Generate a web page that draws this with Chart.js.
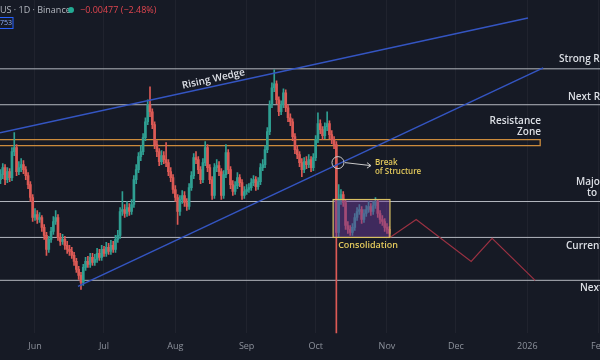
<!DOCTYPE html>
<html>
<head>
<meta charset="utf-8">
<script src="https://cdn.jsdelivr.net/npm/chart.js@4.4.1/dist/chart.umd.min.js"></script>
<style>
  html, body { margin: 0; background: #161a25; }
  canvas { display: block; }
</style>
</head>
<body>
<canvas id="chart" width="600" height="360"></canvas>
<script>
// daily candles, first one is 17 May 2025 (day -15, day 0 = 1 Jun)
// prices in 1/1000 USDT
const startDay = -15;
const opens = [
  258,263,270,258,266,260,286,290,266,270,273,268,262,253,240,
  220,223,218,220,210,202,188,198,206,216,
  220,200,196,198,192,188,186,182,176,168,
  162,155,170,176,173,180,175,178,184,180,
  188,184,190,186,192,188,198,202,226,228,
  224,230,226,233,258,268,281,286,300,316,
  333,326,313,293,286,276,282,278,275,266,
  260,248,240,226,238,242,235,231,250,262,
  280,278,268,258,275,290,270,258,242,270,
  272,266,242,263,285,268,253,246,252,260,
  255,242,246,248,250,255,258,251,256,270,
  273,288,306,333,350,354,338,326,333,345,
  330,320,316,301,288,283,275,268,276,273,
  278,270,280,298,314,308,302,311,314,303,
  298,293,205,238,243,235,212,208,205,210,
  220,226,228,218,224,228,231,226,232,236,
  224,218,216,210,208
];
const highs = [
  268,274,273,270,269,290,305,293,276,279,277,271,265,256,243,
  229,227,225,222,213,205,201,210,221,227,
  223,204,203,201,196,192,190,185,179,171,
  165,173,180,181,184,184,183,189,188,192,
  191,195,194,197,196,202,207,230,246,233,
  236,234,238,262,273,285,292,304,320,338,
  351,329,316,297,289,287,286,295,278,270,
  263,252,243,242,247,246,239,254,266,284,
  286,281,271,279,296,293,273,261,274,278,
  276,269,267,293,288,271,257,256,265,263,
  258,251,253,254,259,262,261,260,274,278,
  292,310,337,355,368,357,341,337,349,348,
  333,324,319,304,292,286,279,280,281,283,
  281,284,302,325,318,311,315,326,317,307,
  301,296,253,248,246,238,216,212,214,224,
  230,233,231,228,232,236,234,236,240,238,
  227,222,219,214,211
];
const lows = [
  254,259,253,255,256,257,282,262,263,266,264,258,249,236,216,
  217,214,215,206,198,182,185,195,203,213,
  197,192,193,188,184,182,179,172,165,158,
  148,152,167,170,170,172,172,175,177,177,
  181,181,183,183,185,185,195,199,222,220,
  221,222,223,230,254,265,277,283,297,313,
  321,309,289,281,272,273,274,271,262,256,
  244,236,213,222,234,231,227,228,247,259,
  274,264,254,255,272,266,254,238,239,266,
  262,238,239,260,264,249,242,243,249,251,
  238,239,243,245,247,252,247,248,253,267,
  270,285,303,330,346,334,322,323,330,326,
  316,312,297,284,279,271,261,265,269,270,
  266,267,277,295,304,298,299,307,299,294,
  289,98,200,233,231,208,204,202,202,207,
  217,223,214,215,221,225,222,223,229,220,
  214,212,206,204,200
];
const closes = [
  263,270,258,266,260,286,290,266,270,273,268,262,253,240,220,
  223,218,220,210,202,188,198,206,216,220,
  200,196,198,192,188,186,182,176,168,162,
  155,170,176,173,180,175,178,184,180,188,
  184,190,186,192,188,198,202,226,228,224,
  230,226,233,258,268,281,286,300,316,333,
  326,313,293,286,276,282,278,275,266,260,
  248,240,226,238,242,235,231,250,262,280,
  278,268,258,275,290,270,258,242,270,272,
  266,242,263,285,268,253,246,252,260,255,
  242,246,248,250,255,258,251,256,270,273,
  288,306,333,350,354,338,326,333,345,330,
  320,316,301,288,283,275,268,276,273,278,
  270,280,298,314,308,302,311,314,303,298,
  293,205,238,243,235,212,208,205,210,220,
  226,228,218,224,228,231,226,232,236,224,
  218,216,210,208,204
];

const monthTicks = [0, 30, 61, 92, 122, 153, 183, 214, 245];
const monthLabels = ['Jun', 'Jul', 'Aug', 'Sep', 'Oct', 'Nov', 'Dec', '2026', 'Feb'];

// horizontal levels: strong res, next res, major, current, next support
const levelPrices = [369, 333, 236, 200, 157];
const zoneTop = 298, zoneBottom = 292, zoneEnd = 219.6;
const wedgeUpper = [[-15.2, 305], [214.3, 420]];
const wedgeLower = [[18.7, 151], [220.9, 370]];
const projection = [[154.3, 200], [165.7, 218], [189.6, 176], [198.7, 199], [217.4, 157]];
const consolidation = { from: 129.6, to: 154.3, low: 200, high: 238 };
const breakPoint = [131.7, 275];

const xs = closes.map((_, i) => startDay + i);
const colors = closes.map((c, i) => c >= opens[i] ? '#2f9f92' : '#dc5a55');

const lineSet = (pts, color, width, order) => ({
  type: 'line',
  data: pts.map(p => ({ x: p[0], y: p[1] })),
  borderColor: color,
  borderWidth: width,
  pointRadius: 0,
  tension: 0,
  order
});

const datasets = [];
levelPrices.forEach(p => datasets.push(lineSet([[-16, p], [247, p]], '#b3b7bf', 1, 6)));
datasets.push(lineSet([[-16, zoneTop], [zoneEnd, zoneTop], [zoneEnd, zoneBottom], [-16, zoneBottom]], '#cc8b3c', 1.3, 6));
datasets.push({
  type: 'bar',
  data: xs.map((x, i) => ({ x, y: [lows[i], highs[i]] })),
  backgroundColor: colors,
  barThickness: 1,
  grouped: false,
  order: 3
});
datasets.push({
  type: 'bar',
  data: xs.map((x, i) => ({ x, y: [opens[i], closes[i]] })),
  backgroundColor: colors,
  barThickness: 2,
  minBarLength: 1,
  grouped: false,
  order: 2
});
datasets.push(lineSet(wedgeUpper, '#3455c2', 1.5, 1));
datasets.push(lineSet(wedgeLower, '#3455c2', 1.5, 1));
datasets.push(lineSet(projection, '#9a3142', 1.2, 1));

const FONT = '"Open Sans", "Noto Sans", sans-serif';

const notes = {
  id: 'notes',
  afterDatasetsDraw(chart) {
    const { ctx, scales: { x, y } } = chart;
    ctx.save();

    // consolidation box
    const bx = x.getPixelForValue(consolidation.from), bx2 = x.getPixelForValue(consolidation.to);
    const by = y.getPixelForValue(consolidation.high), by2 = y.getPixelForValue(consolidation.low);
    ctx.fillStyle = 'rgba(104,58,150,0.5)';
    ctx.fillRect(bx, by, bx2 - bx, by2 - by);
    ctx.strokeStyle = '#d9c162';
    ctx.lineWidth = 1.2;
    ctx.strokeRect(bx, by, bx2 - bx, by2 - by);
    ctx.fillStyle = '#e3c95c';
    ctx.font = '600 9px ' + FONT;
    ctx.textBaseline = 'middle';
    ctx.fillText('Consolidation', bx + 5, by2 + 8);

    // break of structure
    const cx = x.getPixelForValue(breakPoint[0]), cy = y.getPixelForValue(breakPoint[1]);
    ctx.strokeStyle = '#c9c9c9';
    ctx.lineWidth = 1;
    ctx.beginPath();
    ctx.arc(cx, cy, 6, 0, Math.PI * 2);
    ctx.stroke();
    ctx.beginPath();
    ctx.moveTo(cx + 7, cy);
    ctx.lineTo(cx + 33, cy + 3);
    ctx.stroke();
    ctx.beginPath();
    ctx.moveTo(cx + 29, cy);
    ctx.lineTo(cx + 33, cy + 3);
    ctx.lineTo(cx + 29, cy + 5.5);
    ctx.stroke();
    ctx.fillStyle = '#e3c95c';
    ctx.font = '600 8px ' + FONT;
    ctx.fillText('Break', cx + 37, cy);
    ctx.fillText('of Structure', cx + 37, cy + 9);

    // rising wedge label along the upper line
    const ux1 = x.getPixelForValue(wedgeUpper[0][0]), uy1 = y.getPixelForValue(wedgeUpper[0][1]);
    const ux2 = x.getPixelForValue(wedgeUpper[1][0]), uy2 = y.getPixelForValue(wedgeUpper[1][1]);
    const ang = Math.atan2(uy2 - uy1, ux2 - ux1);
    const tx = 215, ty = uy1 + (tx - ux1) * Math.tan(ang);
    ctx.save();
    ctx.translate(tx, ty);
    ctx.rotate(ang);
    ctx.fillStyle = '#dfe2e8';
    ctx.font = '600 10px ' + FONT;
    ctx.textAlign = 'center';
    ctx.fillText('Rising Wedge', 0, -7);
    ctx.restore();

    // level labels on the right
    ctx.fillStyle = '#dcdfe5';
    ctx.font = '600 10px ' + FONT;
    const lp = levelPrices.map(p => y.getPixelForValue(p));
    ctx.fillText('Strong Resistance', 559, lp[0] - 10);
    ctx.fillText('Next Resistance', 568, lp[1] - 8);
    ctx.fillText('Major Support', 576, lp[2] - 19);
    ctx.fillText('to Reclaim', 587, lp[2] - 8);
    ctx.fillText('Current Price', 566, lp[3] + 9);
    ctx.fillText('Next Support', 580, lp[4] + 8);
    ctx.textAlign = 'right';
    const zt = y.getPixelForValue(zoneTop);
    ctx.fillText('Resistance', 541, zt - 19);
    ctx.fillText('Zone', 541, zt - 8);
    ctx.textAlign = 'left';

    // header
    ctx.font = '9px ' + FONT;
    ctx.fillStyle = '#b4b8c0';
    ctx.fillText('US \u00b7 1D \u00b7 Binance', 0, 10);
    ctx.fillStyle = '#22ab94';
    ctx.beginPath();
    ctx.arc(71, 10, 3, 0, Math.PI * 2);
    ctx.fill();
    ctx.fillStyle = '#e0454f';
    ctx.fillText('\u22120.00477 (\u22122.48%)', 80, 10);
    ctx.strokeStyle = '#2962ff';
    ctx.lineWidth = 1;
    ctx.strokeRect(-3, 17.5, 16, 11);
    ctx.fillStyle = '#8fb0ff';
    ctx.font = '7px ' + FONT;
    ctx.fillText('753', 0, 23);
    ctx.restore();
  }
};

new Chart(document.getElementById('chart'), {
  type: 'bar',
  data: { datasets },
  plugins: [notes],
  options: {
    responsive: false,
    animation: false,
    devicePixelRatio: 1,
    layout: { padding: { left: 0, right: 0, top: 0, bottom: 0 } },
    plugins: { legend: { display: false }, tooltip: { enabled: false } },
    scales: {
      x: {
        type: 'linear',
        min: -15.2,
        max: 245.6,
        offset: false,
        grid: { color: 'rgba(255,255,255,0.045)', drawTicks: false, offset: false },
        border: { display: false },
        ticks: {
          color: '#8d929c',
          font: { size: 9, family: FONT },
          padding: 8,
          autoSkip: false,
          maxRotation: 0,
          callback: (v, i) => monthLabels[i]
        },
        afterBuildTicks: s => { s.ticks = monthTicks.map(v => ({ value: v })); },
        afterFit: s => { s.paddingLeft = 0; s.paddingRight = 0; }
      },
      y: { display: false, min: 104, max: 438 }
    }
  }
});
</script>
</body>
</html>
